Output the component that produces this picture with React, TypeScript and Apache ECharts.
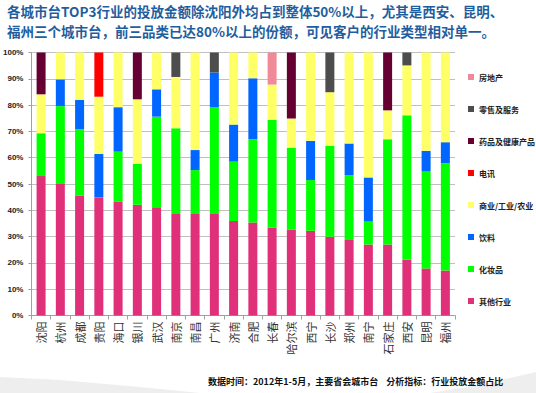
import React, { useEffect, useRef } from "react";
import * as echarts from "echarts";

const cities = ["沈阳", "杭州", "成都", "贵阳", "海口", "银川", "武汉", "南京", "南昌", "广州", "济南", "合肥", "长春", "哈尔滨", "西宁", "长沙", "郑州", "南宁", "石家庄", "西安", "昆明", "福州"];

const otherIndustry = [53.0, 50.0, 45.6, 44.9, 43.3, 42.1, 41.2, 38.6, 38.6, 38.6, 35.9, 35.4, 33.5, 32.7, 32.2, 29.9, 28.7, 27.0, 27.0, 21.2, 17.9, 17.1];
const cosmetics = [16.3, 29.6, 25.2, 0, 19.0, 15.5, 34.4, 32.6, 16.7, 40.5, 22.6, 31.6, 40.9, 31.1, 19.3, 34.6, 24.7, 8.7, 40.0, 54.9, 37.0, 40.8];
const drinks = [0, 10.2, 11.2, 16.5, 16.9, 0, 10.4, 0, 7.6, 13.3, 14.1, 23.2, 0, 0, 14.9, 0, 12.0, 16.8, 0, 0, 7.7, 8.0];
const commerce = [14.8, 10.2, 18.0, 21.8, 20.8, 24.6, 14.0, 19.5, 37.1, 0, 27.4, 9.8, 13.4, 11.1, 33.6, 20.4, 34.6, 47.5, 11.0, 19.0, 37.4, 34.1];
const telecom = [0, 0, 0, 16.8, 0, 0, 0, 0, 0, 0, 0, 0, 0, 0, 0, 0, 0, 0, 0, 0, 0, 0];
const pharma = [15.9, 0, 0, 0, 0, 17.8, 0, 0, 0, 0, 0, 0, 0, 25.1, 0, 0, 0, 0, 22.0, 0, 0, 0];
const retail = [0, 0, 0, 0, 0, 0, 0, 9.3, 0, 7.6, 0, 0, 0, 0, 0, 15.1, 0, 0, 0, 4.9, 0, 0];
const realEstate = [0, 0, 0, 0, 0, 0, 0, 0, 0, 0, 0, 0, 12.2, 0, 0, 0, 0, 0, 0, 0, 0, 0];

const seriesNames = ["其他行业", "化妆品", "饮料", "商业/工业/农业", "电讯", "药品及健康产品", "零售及服务", "房地产"];
const seriesData = [otherIndustry, cosmetics, drinks, commerce, telecom, pharma, retail, realEstate];
const seriesColors = ["#E0307A", "#00FF00", "#0066FF", "#FFFF66", "#FF0000", "#660033", "#4D4D4D", "#F08A98"];

const yTicks = { min: 0, max: 100, interval: 10 };

const titleLines = [
  "各城市台TOP3行业的投放金额除沈阳外均占到整体50%以上，尤其是西安、昆明、",
  "福州三个城市台，前三品类已达80%以上的份额，可见客户的行业类型相对单一。",
];
const footerText = "数据时间：2012年1-5月，主要省会城市台    分析指标：行业投放金额占比";

export default function App() {
  const ref = useRef<HTMLDivElement>(null);
  useEffect(() => {
    if (!ref.current) return;
    const chart = echarts.init(ref.current, null, { renderer: "svg" });
    const cjk = "'Noto Sans CJK SC', sans-serif";
    chart.setOption({
      animation: false,
      backgroundColor: "#FFFFFF",
      grid: { left: 31, right: 81, top: 52.5, bottom: 77.5, containLabel: false },
      legend: {
        orient: "vertical",
        left: 463,
        top: 66,
        itemWidth: 6,
        itemHeight: 6,
        itemGap: 20,
        icon: "rect",
        data: [...seriesNames].reverse(),
        textStyle: { fontSize: 8, lineHeight: 12, color: "#222", fontFamily: cjk, fontWeight: "bold" },
      },
      xAxis: {
        type: "category",
        data: cities,
        axisLine: { lineStyle: { color: "#A0A0A0" } },
        axisTick: { show: true, length: 4, lineStyle: { color: "#A0A0A0" } },
        axisLabel: { rotate: 90, fontSize: 11, color: "#333", fontFamily: cjk, margin: 6, interval: 0 },
      },
      yAxis: {
        type: "value",
        min: yTicks.min,
        max: yTicks.max,
        interval: yTicks.interval,
        axisLine: { show: true, lineStyle: { color: "#A0A0A0" } },
        axisTick: { show: true, length: 3, lineStyle: { color: "#A0A0A0" } },
        splitLine: { lineStyle: { color: "#C0C0C0", width: 1 } },
        axisLabel: { formatter: "{value}%", fontSize: 8, color: "#222", fontWeight: "bold", fontFamily: "'Liberation Sans', sans-serif", margin: 8 },
      },
      series: seriesNames.map((name, i) => ({
        name,
        type: "bar",
        stack: "total",
        barWidth: 9,
        data: seriesData[i],
        itemStyle: { color: seriesColors[i] },
      })),
      graphic: [
        {
          type: "polygon",
          silent: true,
          z: -10,
          shape: { points: [[0, 377], [60, 380], [140, 387], [200, 393], [0, 393]] },
          style: { fill: "#EEEEEE" },
        },
        {
          type: "polygon",
          silent: true,
          z: -10,
          shape: { points: [[430, 393], [480, 385], [536, 372], [536, 393]] },
          style: { fill: "#EEEEEE" },
        },
        {
          type: "text",
          left: 7,
          top: 3.5,
          style: { text: titleLines[0], fontSize: 13.5, lineHeight: 15, fontWeight: "bold", fill: "#1F5E9E", fontFamily: cjk },
        },
        {
          type: "text",
          left: 7,
          top: 23,
          style: { text: titleLines[1], fontSize: 13.5, lineHeight: 15, fontWeight: "bold", fill: "#1F5E9E", fontFamily: cjk },
        },
        {
          type: "text",
          left: 208,
          top: 377,
          style: { text: footerText, fontSize: 9, fontWeight: "bold", fill: "#111", fontFamily: cjk },
        },
      ],
    });
    return () => chart.dispose();
  }, []);
  return (
    <div
      ref={ref}
      style={{ position: "fixed", left: 0, top: 0, width: 536, height: 393 }}
    />
  );
}
